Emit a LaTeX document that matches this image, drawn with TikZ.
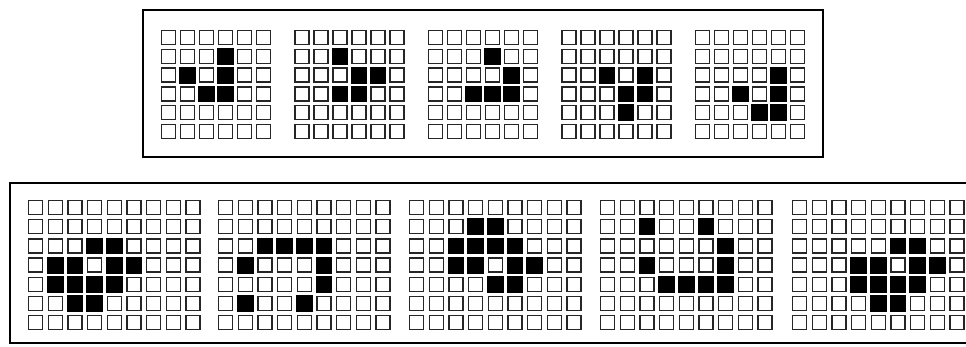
\documentclass[tikz,border=0pt]{standalone}
\usepackage{tikz}

\begin{document}
\begin{tikzpicture}[
  x=1pt, y=-1pt,
  cell/.style={
    rectangle,
    draw=black!85,
    line width=1.4pt,
    minimum width=14pt,
    minimum height=14pt,
    inner sep=0pt,
  },
  panel/.style={draw, line width=1.2pt},
]
\useasboundingbox (0,0) rectangle (966,346);

% --- upper panel: 6x6 boards ---
\draw[panel] (143,10) rectangle (823,157);
\foreach \g/\gx/\alive in {
  1/161/{2/4,3/2,3/4,4/3,4/4},
  2/294.5/{2/3,3/4,3/5,4/3,4/4},
  3/428/{2/4,3/5,4/3,4/4,4/5},
  4/561.5/{3/3,3/5,4/4,4/5,5/4},
  5/695/{3/5,4/3,4/5,5/4,5/5}}{
  \foreach \r in {1,...,6}
    \foreach \c in {1,...,6}
      \node[cell] (u\g-\r-\c) at ({\gx+7.5+19*(\c-1)}, {37.5+18.8*(\r-1)}) {};
  % live cells
  \foreach \r/\c in \alive
    \filldraw[line width=1.4pt] (u\g-\r-\c.north west) rectangle (u\g-\r-\c.south east);
}

% --- lower panel: 9x7 boards ---
\draw[panel] (970,183) -- (10,183) -- (10,343) -- (970,343);
\foreach \g/\gx/\alive in {
  1/28/{3/4,3/5,4/2,4/3,4/5,4/6,5/2,5/3,5/4,5/5,6/3,6/4},
  2/218/{3/3,3/4,3/5,3/6,4/2,4/6,5/6,6/2,6/5},
  3/409/{2/4,2/5,3/3,3/4,3/5,3/6,4/3,4/4,4/6,4/7,5/5,5/6},
  4/600/{2/3,2/6,3/7,4/3,4/7,5/4,5/5,5/6,5/7},
  5/792/{3/6,3/7,4/4,4/5,4/7,4/8,5/4,5/5,5/6,5/7,6/5,6/6}}{
  \foreach \r in {1,...,7}
    \foreach \c in {1,...,9}
      \node[cell] (l\g-\r-\c) at ({\gx+7.5+19.7*(\c-1)}, {207.5+19.2*(\r-1)}) {};
  % live cells
  \foreach \r/\c in \alive
    \filldraw[line width=1.4pt] (l\g-\r-\c.north west) rectangle (l\g-\r-\c.south east);
}
\end{tikzpicture}
\end{document}
